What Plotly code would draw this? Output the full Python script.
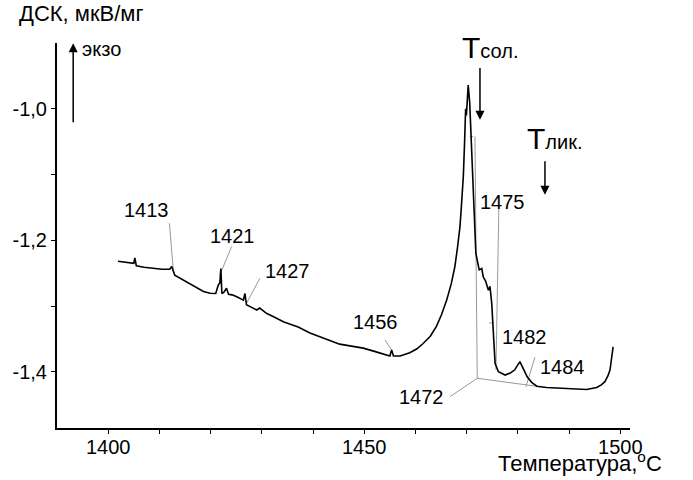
import plotly.graph_objects as go

# DSC curve
temp = [1401.9, 1403.5, 1405.0, 1405.2, 1405.5, 1407.0, 1408.8, 1410.5, 1412.0, 1412.4,
        1413.0, 1414.6, 1416.0, 1417.3, 1418.6, 1419.9, 1421.0, 1421.5, 1421.8, 1422.0,
        1422.2, 1422.6, 1423.1, 1423.5, 1424.2, 1425.1, 1426.4, 1426.7, 1427.0, 1428.0,
        1429.0, 1429.6, 1430.9, 1432.5, 1434.2, 1435.7, 1437.1, 1439.4, 1442.0, 1445.2,
        1447.5, 1449.8, 1452.0, 1454.0, 1455.0, 1455.35, 1455.7, 1457.0, 1458.9, 1460.3,
        1461.5, 1462.9, 1464.1, 1465.1, 1466.1, 1467.0, 1467.7, 1468.2, 1468.7, 1469.0,
        1469.35, 1469.6, 1469.7, 1469.8, 1469.95, 1470.3, 1470.6, 1470.85, 1471.05, 1471.3,
        1471.8, 1472.45, 1472.95, 1473.25, 1473.7, 1474.25, 1474.55, 1474.9, 1475.2, 1475.55,
        1476.2, 1477.5, 1478.5, 1479.4, 1480.1, 1480.4, 1480.8, 1481.05, 1481.85, 1482.7,
        1483.7, 1485.6, 1487.5, 1489.5, 1491.5, 1493.4, 1495.4, 1496.3, 1497.0, 1497.6,
        1498.0, 1498.35, 1498.6]
dsc = [-1.232, -1.234, -1.235, -1.227, -1.239, -1.241, -1.2425, -1.244, -1.244, -1.240,
       -1.253, -1.260, -1.267, -1.273, -1.278, -1.2805, -1.281, -1.268, -1.265, -1.243,
       -1.281, -1.279, -1.273, -1.282, -1.283, -1.286, -1.291, -1.281, -1.298, -1.302,
       -1.306, -1.303, -1.311, -1.317, -1.324, -1.328, -1.332, -1.341, -1.349, -1.358,
       -1.361, -1.364, -1.369, -1.374, -1.376, -1.367, -1.376, -1.376, -1.371, -1.365,
       -1.357, -1.346, -1.331, -1.313, -1.291, -1.266, -1.240, -1.212, -1.179, -1.145,
       -1.103, -1.050, -1.027, -1.000, -1.010, -0.964, -0.991, -1.042, -1.090, -1.143,
       -1.220, -1.245, -1.243, -1.256, -1.262, -1.276, -1.270, -1.296, -1.347, -1.387,
       -1.400, -1.405, -1.402, -1.397, -1.388, -1.385, -1.391, -1.395, -1.408, -1.416,
       -1.422, -1.424, -1.425, -1.425, -1.426, -1.427, -1.424, -1.420, -1.415, -1.406,
       -1.397, -1.380, -1.362]

# thin grey construction / leader lines: (T0, v0, T1, v1)
guides = [
    (1411.95, -1.174, 1412.7, -1.244),    # 1413
    (1424.1, -1.2096, 1421.8, -1.2527),   # 1421
    (1429.63, -1.2577, 1427.03, -1.2957), # 1427
    (1454.04, -1.3516, 1455.35, -1.3668), # 1456
    (1476.3, -1.1476, 1475.72, -1.3973),  # 1475
    (1471.62, -1.0422, 1472.07, -1.4099), # 1472 vertical
    (1472.07, -1.4099, 1484.3, -1.4227),  # baseline
    (1472.07, -1.4099, 1466.74, -1.4379), # 1472 leader
    (1483.34, -1.3779, 1481.58, -1.4227), # 1484
    (1470.6, -1.042, 1471.3, -1.042),
    (1474.4, -1.3257, 1475.3, -1.3257),
]

peak_labels = ["1413", "1421", "1427", "1456", "1475", "1482", "1484", "1472"]
label_t = [1407.4, 1424.26, 1435.0, 1452.28, 1477.09, 1481.39, 1488.8, 1461.2]
label_v = [-1.1537, -1.1933, -1.2461, -1.3237, -1.1423, -1.347, -1.3927, -1.4379]

y_ticks = [-1.4, -1.3, -1.2, -1.1, -1.0]
y_text = ["-1,4", "", "-1,2", "", "-1,0"]
x_ticks = list(range(1400, 1501, 10))
x_text = [str(t) if t % 50 == 0 else "" for t in x_ticks]

FONT = "Liberation Sans, Arial, sans-serif"

fig = go.Figure()
for t0, v0, t1, v1 in guides:
    fig.add_trace(go.Scatter(x=[t0, t1], y=[v0, v1], mode="lines",
                             line=dict(color="#999999", width=1), hoverinfo="skip"))
fig.add_trace(go.Scatter(x=temp, y=dsc, mode="lines",
                         line=dict(color="black", width=1.6)))

for txt, t, v in zip(peak_labels, label_t, label_v):
    fig.add_annotation(x=t, y=v, text=txt, showarrow=False, xanchor="center", yanchor="middle",
                       font=dict(size=20, color="black", family=FONT))


def arrow(t, v_from, v_to):
    fig.add_annotation(x=t, y=v_to, ax=t, ay=v_from, xref="x", yref="y",
                       axref="x", ayref="y", showarrow=True, arrowhead=2, arrowsize=1.2,
                       arrowwidth=1.5, arrowcolor="black", text="")


# T sol. / T liq. markers
fig.add_annotation(x=1474.55, y=-0.9064, text="T<span style='font-size:20px'>сол.</span>",
                   showarrow=False, xanchor="center", yanchor="middle",
                   font=dict(size=30, color="black", family=FONT))
fig.add_annotation(x=1487.25, y=-1.0457, text="T<span style='font-size:20px'>лик.</span>",
                   showarrow=False, xanchor="center", yanchor="middle",
                   font=dict(size=30, color="black", family=FONT))
arrow(1472.6, -0.9356, -1.0167)
arrow(1485.29, -1.0776, -1.1309)
# exo arrow
arrow(1393.16, -1.0228, -0.9005)
fig.add_annotation(x=1398.7, y=-0.9087, text="экзо", showarrow=False,
                   xanchor="center", yanchor="middle",
                   font=dict(size=20, color="black", family=FONT))

fig.add_annotation(xref="paper", yref="paper", x=0.0436, y=1.0779, text="ДСК, мкВ/мг",
                   showarrow=False, xanchor="center", yanchor="middle",
                   font=dict(size=22, color="black", family=FONT))
fig.add_annotation(xref="paper", yref="paper", x=0.9127, y=-0.0885,
                   text="Температура,<sup>o</sup>C", xanchor="center", yanchor="middle",
                   showarrow=False, font=dict(size=22, color="black", family=FONT))

fig.update_layout(
    width=693, height=480,
    margin=dict(l=57, r=63, t=43, b=52),
    plot_bgcolor="white", paper_bgcolor="white",
    showlegend=False,
    font=dict(family=FONT, size=20, color="black"),
    xaxis=dict(range=[1390, 1501.9], showgrid=False, zeroline=False,
               showline=True, linecolor="black", linewidth=2,
               tickmode="array", tickvals=x_ticks, ticktext=x_text,
               ticks="outside", ticklen=4, tickcolor="black", tickwidth=1,
               ticklabelstandoff=-4),
    yaxis=dict(range=[-1.4855, -0.9], showgrid=False, zeroline=False,
               showline=True, linecolor="black", linewidth=2,
               tickmode="array", tickvals=y_ticks, ticktext=y_text,
               ticks="outside", ticklen=4, tickcolor="black", tickwidth=1,
               ticklabelstandoff=0),
)

fig.write_html("out.html", config={"displayModeBar": False},
               post_script="document.body.style.margin='0px';")
